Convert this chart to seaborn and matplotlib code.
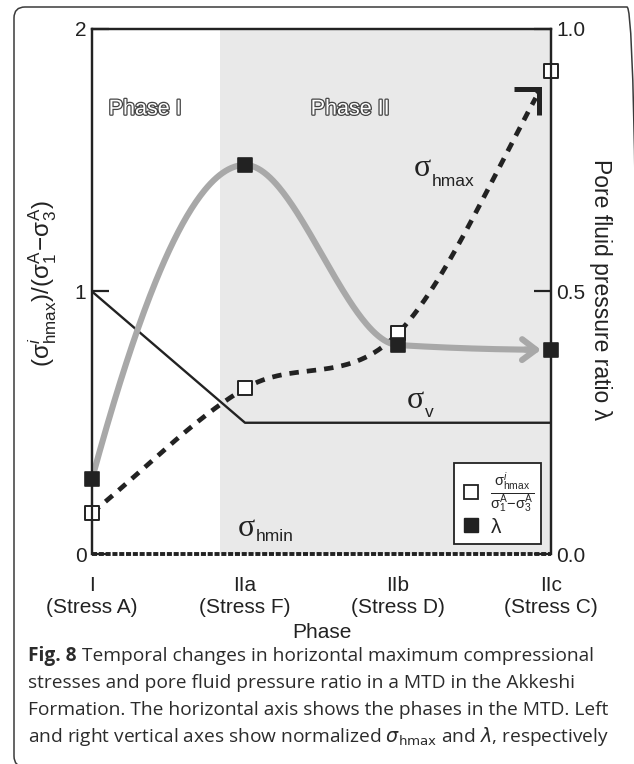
import numpy as np
import pandas as pd
import matplotlib
matplotlib.use("Agg")
import matplotlib.pyplot as plt
import seaborn as sns
import matplotlib.patheffects as pe
from matplotlib.patches import FancyBboxPatch
from matplotlib.lines import Line2D
from matplotlib.transforms import IdentityTransform

# ---------------- data ----------------
phases = ["I", "IIa", "IIb", "IIc"]
stress_labels = ["(Stress A)", "(Stress F)", "(Stress D)", "(Stress C)"]
phase_pos = [0, 1, 2, 3]
sigma_hmax_norm = [0.157, 0.631, 0.841, 1.841]   # left axis, open squares
pore_ratio = [0.143, 0.741, 0.398, 0.389]        # right axis, filled squares
sigma_v = [1.0, 0.5, 0.5, 0.5]
sigma_hmin = [0.0, 0.0, 0.0, 0.0]
phase2_start = 0.837
left_ticks = [0, 1, 2]
left_ticklabels = ["0", "1", "2"]
right_ticks = [0.0, 0.5, 1.0]
right_ticklabels = ["0.0", "0.5", "1.0"]
caption_lines = [
    "Temporal changes in horizontal maximum compressional",
    "stresses and pore fluid pressure ratio in a MTD in the Akkeshi",
    "Formation. The horizontal axis shows the phases in the MTD. Left",
    r"and right vertical axes show normalized $\sigma_{\mathsf{hmax}}$ and $\lambda$, respectively",
]


def slopes_pchip(y):
    y = np.asarray(y, float)
    d = np.diff(y)
    m = np.zeros_like(y)
    for k in range(1, len(y) - 1):
        if d[k - 1] * d[k] > 0:
            m[k] = 2 / (1 / d[k - 1] + 1 / d[k])
    m0 = (3 * d[0] - d[1]) / 2
    m[0] = m0 if m0 * d[0] > 0 else 0
    mn = (3 * d[-1] - d[-2]) / 2
    m[-1] = mn if mn * d[-1] > 0 else 0
    return m


def slopes_cr(y):
    y = np.asarray(y, float)
    d = np.diff(y)
    m = np.zeros_like(y)
    m[1:-1] = (y[2:] - y[:-2]) / 2
    m[0] = d[0]
    m[-1] = d[-1]
    return m


def hermite(x, y, m, x_end, n=300):
    x = np.asarray(x, float)
    y = np.asarray(y, float)
    xs = np.linspace(x[0], x_end, n)
    idx = np.clip(np.searchsorted(x, xs, side="right") - 1, 0, len(x) - 2)
    h = x[idx + 1] - x[idx]
    t = (xs - x[idx]) / h
    h00 = 2 * t**3 - 3 * t**2 + 1
    h10 = t**3 - 2 * t**2 + t
    h01 = -2 * t**3 + 3 * t**2
    h11 = t**3 - t**2
    ys = h00 * y[idx] + h10 * h * m[idx] + h01 * y[idx + 1] + h11 * h * m[idx + 1]
    return xs, ys


sns.set_theme(style="white")
plt.rcParams["font.family"] = ["Liberation Sans", "DejaVu Sans"]
plt.rcParams["mathtext.fontset"] = "custom"
plt.rcParams["mathtext.rm"] = "Liberation Sans"
plt.rcParams["mathtext.it"] = "Liberation Sans:italic"
plt.rcParams["mathtext.sf"] = "Liberation Sans"
plt.rcParams["mathtext.bf"] = "Liberation Sans:bold"

W, H = 634, 764
fig = plt.figure(figsize=(W / 100, H / 100), dpi=100)
fig.patch.set_facecolor("white")

# rounded frame around figure + caption
frame = FancyBboxPatch((14, -3), 624, 760, boxstyle="round,pad=0,rounding_size=11",
                       transform=IdentityTransform(), fill=False, ec="#3a3a3a", lw=1.1)
fig.patches.append(frame)

ax = fig.add_axes([92 / W, 1 - 554 / H, 459 / W, 525 / H])
ax.set_facecolor("white")
df = pd.DataFrame({"pos": phase_pos, "sv": sigma_v, "shmin": sigma_hmin,
                   "shmax": sigma_hmax_norm, "lam": pore_ratio})

ax.axvspan(phase2_start, 3, color="#e9e9e9", lw=0, zorder=0)
sns.lineplot(data=df, x="pos", y="sv", ax=ax, color="#222222", lw=1.7, zorder=3)
sns.lineplot(data=df, x="pos", y="shmin", ax=ax, color="#222222", lw=2.8,
             linestyle=(0, (1.3, 0.45)), zorder=3, clip_on=False)

# sigma_hmax dotted curve with arrow head
mh = slopes_cr(sigma_hmax_norm)
xs, ys = hermite(phase_pos, sigma_hmax_norm, mh, 2.90)
ax.plot(xs, ys, color="#222222", lw=3.4, linestyle=(0, (2.0, 1.7)), zorder=4)
xt, yt = hermite(phase_pos, sigma_hmax_norm, mh, 2.94)
ax.annotate("", xy=(xt[-1], yt[-1]), xytext=(-6, -6), textcoords="offset pixels",
            arrowprops=dict(arrowstyle="->,head_length=1.3,head_width=1.3", mutation_scale=10,
                            lw=3.6, color="#222222", shrinkA=0, shrinkB=0,
                            joinstyle="miter", capstyle="butt"),
            zorder=5)

sns.scatterplot(data=df, x="pos", y="shmax", ax=ax, marker="s", s=100,
                color="white", edgecolor="#222222", linewidth=1.4, zorder=6, clip_on=False)

ax.set_xlim(0, 3)
ax.set_ylim(0, 2)
ax.set_xticks(phase_pos, labels=[f"{p}\n{s}" for p, s in zip(phases, stress_labels)])
ax.set_yticks(left_ticks, labels=left_ticklabels)
ax.tick_params(axis="x", direction="out", length=13, width=1.6, color="#222222",
               labelsize=15, pad=3, labelcolor="#222222")
ax.tick_params(axis="y", direction="in", length=12, width=1.6, color="#222222",
               labelsize=15, pad=4, labelcolor="#222222")
ax.set_xlabel("Phase", fontsize=15, color="#222222", labelpad=4)
ax.set_ylabel(r"$(\mathrm{\sigma}^{i}_{\mathrm{hmax}})/(\mathrm{\sigma}_{1}^{\mathrm{A}}\!-\!\mathrm{\sigma}_{3}^{\mathrm{A}})$",
              fontsize=17.5, color="#222222")
ax.yaxis.set_label_coords(-0.072, 0.514)
for s in ["left", "top", "right"]:
    ax.spines[s].set_color("#222222")
    ax.spines[s].set_linewidth(1.6)
ax.spines["bottom"].set_visible(False)

# annotations
ph_fx = [pe.withStroke(linewidth=1.8, foreground="#444444")]
ax.text(0.346, 1.695, "Phase I", fontsize=15.5, color="white", ha="center", va="center",
        path_effects=ph_fx, zorder=7)
ax.text(1.686, 1.695, "Phase II", fontsize=15.5, color="white", ha="center", va="center",
        path_effects=ph_fx, zorder=7)

serif = ["Liberation Serif", "DejaVu Serif"]
ax.text(2.10, 1.47, "σ", fontsize=23, family=serif, color="#222222", ha="left", va="center", zorder=7)
ax.text(2.22, 1.42, "hmax", fontsize=12.5, color="#222222", ha="left", va="center", zorder=7)
ax.text(2.06, 0.585, "σ", fontsize=23, family=serif, color="#222222", ha="left", va="center", zorder=7)
ax.text(2.175, 0.54, "v", fontsize=12.5, color="#222222", ha="left", va="center", zorder=7)
ax.text(0.955, 0.098, "σ", fontsize=23, family=serif, color="#222222", ha="left", va="center", zorder=7)
ax.text(1.07, 0.065, "hmin", fontsize=12.5, color="#222222", ha="left", va="center", zorder=7)

# right axis: pore fluid pressure ratio
ax2 = ax.twinx()
ax2.set_ylim(0, 1)
mp = slopes_pchip(pore_ratio)
gx, gy = hermite(phase_pos, pore_ratio, mp, 2.90)
ax2.plot(gx, gy, color="#a8a8a8", lw=4.4, solid_capstyle="butt", zorder=2)
gxt, gyt = hermite(phase_pos, pore_ratio, mp, 2.935)
ax2.annotate("", xy=(gxt[-1], gyt[-1]), xytext=(gx[-8], gy[-8]),
             arrowprops=dict(arrowstyle="->,head_length=1.0,head_width=0.75", mutation_scale=10,
                             lw=4.4, color="#a8a8a8", shrinkA=0, shrinkB=0), zorder=2)
sns.scatterplot(data=df, x="pos", y="lam", ax=ax2, marker="s", s=100,
                color="#222222", edgecolor="#222222", linewidth=1.2, zorder=6, clip_on=False)
ax2.set_yticks(right_ticks, labels=right_ticklabels)
ax2.tick_params(axis="y", direction="in", length=12, width=1.6, color="#222222",
                labelsize=15, pad=4, labelcolor="#222222")
ax2.set_ylabel("Pore fluid pressure ratio λ", fontsize=16.5, color="#222222", rotation=270,
               va="center")
ax2.yaxis.set_label_coords(1.107, 0.503)
ax2.spines["bottom"].set_visible(False)
for s in ["left", "top", "right"]:
    ax2.spines[s].set_color("#222222")
    ax2.spines[s].set_linewidth(1.6)

handles = [Line2D([], [], marker="s", ls="", markersize=10.5, markerfacecolor="white",
                  markeredgecolor="#222222", markeredgewidth=1.3),
           Line2D([], [], marker="s", ls="", markersize=10.5, markerfacecolor="#222222",
                  markeredgecolor="#222222")]
labels = [r"$\frac{\mathrm{\sigma}^{i}_{\mathrm{hmax}}}{\mathrm{\sigma}_{1}^{\mathrm{A}}\!-\!\mathrm{\sigma}_{3}^{\mathrm{A}}}$",
          r"$\mathrm{\lambda}$"]
leg = ax2.legend(handles, labels, loc="lower right", bbox_to_anchor=(0.978, 0.019),
                 borderaxespad=0, fontsize=15, handlelength=0.9, handletextpad=0.45,
                 labelspacing=0.15, borderpad=0.35, fancybox=False, framealpha=1,
                 edgecolor="#222222")
leg.get_frame().set_linewidth(1.3)

# caption
cap_color = "#2b2b2b"
cap_fs = 13.8
ys_cap = [656, 683, 710, 736]
cap_family = ["Open Sans", "DejaVu Sans"]
t0 = fig.text(28 / W, 1 - ys_cap[0] / H, "Fig. 8", fontsize=cap_fs, weight="bold",
              family=cap_family, color=cap_color, va="center")
r = fig.canvas.get_renderer()
bb = t0.get_window_extent(renderer=r)
fig.text((bb.x1 + 5) / W, 1 - ys_cap[0] / H, caption_lines[0], fontsize=cap_fs,
         family=cap_family, color=cap_color, va="center")
for line, yy in zip(caption_lines[1:], ys_cap[1:]):
    fig.text(28 / W, 1 - yy / H, line, fontsize=cap_fs, family=cap_family,
             color=cap_color, va="center", math_fontfamily="dejavusans")

fig.savefig("out.png", dpi=100)
